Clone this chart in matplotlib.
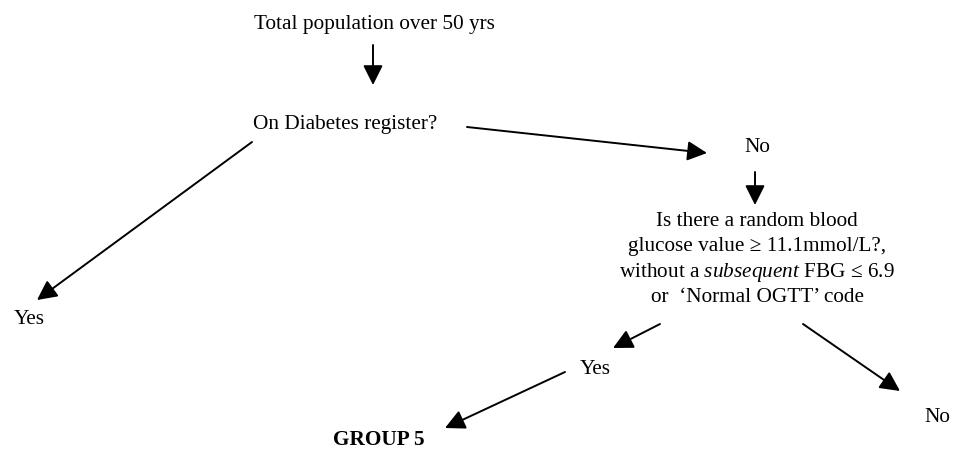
import matplotlib.pyplot as plt

plt.rcParams['font.family'] = ['Liberation Serif', 'DejaVu Serif']
plt.rcParams['mathtext.fontset'] = 'custom'
plt.rcParams['mathtext.rm'] = 'Liberation Serif'
plt.rcParams['mathtext.it'] = 'Liberation Serif:italic'

# Node labels
top_label = "Total population over 50 yrs"
register_label = "On Diabetes register?"
yes_label = "Yes"
no_label = "No"
question_lines = [
    "Is there a random blood",
    "glucose value \u2265 11.1mmol/L?,",
    "without a $\\mathit{subsequent}$ FBG \u2264 6.9",
    "or  \u2018Normal OGTT\u2019 code",
]
group_label = "GROUP 5"

W, H = 955, 451
fig = plt.figure(figsize=(W / 100, H / 100), dpi=100)
ax = fig.add_axes([0, 0, 1, 1])
ax.set_xlim(0, W)
ax.set_ylim(H, 0)
ax.axis('off')

fs = 15.3
dy = 2  # small nudge so glyph centres sit where the reference has them

# Text nodes (pixel positions)
ax.text(374, 22 + dy, top_label, fontsize=fs, ha='center', va='center')
ax.text(253, 122 + dy, register_label, fontsize=fs, ha='left', va='center')
ax.text(757, 146 + dy, no_label, fontsize=fs, ha='center', va='center')
for i, line in enumerate(question_lines):
    ax.text(757, 220 + i * 25 + dy, line, fontsize=fs, ha='center', va='center')
ax.text(29, 318 + dy, yes_label, fontsize=fs, ha='center', va='center')
ax.text(595, 367 + dy, yes_label, fontsize=fs, ha='center', va='center')
ax.text(937, 415 + dy, no_label, fontsize=fs, ha='center', va='center')
ax.text(379, 438 + dy, group_label, fontsize=fs, ha='center', va='center',
        fontweight='bold')

# Arrows: (start, end)
arrows = [
    ((373, 45), (373, 85)),
    ((467, 127), (707, 153)),
    ((755, 172), (755, 205)),
    ((252, 142), (37, 300)),
    ((660, 324), (613, 348)),
    ((803, 324), (900, 391)),
    ((565, 372), (445, 428)),
]
for (x0, y0), (x1, y1) in arrows:
    ax.annotate('', xy=(x1, y1), xytext=(x0, y0),
                arrowprops=dict(arrowstyle='-|>,head_length=0.8,head_width=0.4',
                                color='black', lw=1.4,
                                mutation_scale=15, shrinkA=0, shrinkB=0))

fig.savefig('out.png', dpi=100)
